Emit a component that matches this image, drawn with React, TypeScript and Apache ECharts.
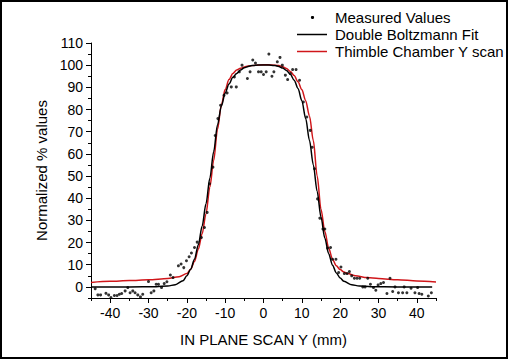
import React, { useEffect, useRef } from "react";
import * as echarts from "echarts";

// Measured values (scatter)
const measuredX = [
  -43.9, -43.2, -42.5, -41.1, -40.4, -39.8, -38.9, -38.2, -37.6, -37, -36.1, -35.4, -34.8, -34.1, -33.5, -32.8,
  -32.1, -31.5, -30, -29.3, -28.6, -28, -27.4, -26.6, -25.9, -25.2, -24.3, -23.6, -22.2, -21.5, -20.8, -20.1,
  -19.4, -18.8, -18, -17.3, -16.2, -15.4, -14.7, -14.1, -13.2, -12.6, -11.9, -11.2, -10.3, -9.5, -8.4, -7.6,
  -7.1, -6.3, -5.6, -4.2, -3.5, -2.8, -2.1, -1.3, -0.6, 0, 0.7, 1.4, 2.2, 2.7, 3.6, 4.3, 4.9, 5.7, 6.3, 7,
  7.6, 8.5, 9.4, 10.4, 11.3, 12.2, 12.7, 13.3, 14.1, 14.7, 15.5, 16, 16.7, 17.5, 18, 18.9, 19.6, 20.2, 21.1,
  21.8, 22.4, 23, 23.7, 24.4, 25.1, 25.9, 26.5, 27.2, 27.9, 28.7, 29.3, 29.9, 30.6, 31.3, 32.2, 33, 33.7, 34.3,
  35.2, 36.3, 36.7, 37.4, 38.5, 39.5, 40.2, 40.6, 41.3, 43, 43.8,
];
const measuredY = [
  -0.8, -3.6, -3.6, -2.9, -3.6, -4.8, -3.9, -3.9, -3.3, -3, -1.8, -0.3, -2.6, -1.8, -2.6, -3.6,
  -4.5, -3.3, 2.4, -2.6, -1.8, 1.2, 1.2, -0.3, 1.5, 2.3, 5.4, 4.2, 9.5, 10.3, 8.7, 11.8,
  13.6, 15.3, 17.8, 20.2, 22.3, 26.8, 33.6, 46.5, 54, 68.3, 75.9, 81.9, 86.4, 87.5, 90.2, 94.7,
  90.2, 97, 100, 94, 97, 102.3, 101, 97, 97, 95.8, 97, 105, 95, 97, 101.5, 103.5, 100, 95.5, 93.5, 96.2,
  98, 98, 93.2, 83.4, 76.6, 70.6, 63, 53.3, 39.7, 31, 26.1, 26.1, 17.5, 17.8, 12.5, 12.5, 6.5, 9, 6,
  6, 6.9, 5, 3.9, 3.9, 3.9, 0, 0, 3.9, 1.2, -0.3, -1.5, 0.9, 1.5, 2, -3, 3.9, -2.1, 0,
  -2.6, -2.6, 0, -2.6, -0.6, -2.6, -0.3, -3, -3.3, -4.1, -2.6,
];

// Double Boltzmann Fit (black)
const fitX = [
  -45, -35, -28, -25, -23, -21, -20, -19, -18, -17, -16, -15, -14, -13, -12, -11, -10, -9, -8, -7, -6, -5, -4,
  -3, -2, -1, 0, 1, 2, 3, 4, 5, 6, 7, 8, 9, 10, 11, 12, 13, 14, 15, 16, 17, 18, 19, 20, 21, 23, 25, 28, 35, 44,
];
const fitY = [
  0, 0, 0.1, 0.4, 1, 2.8, 5, 8, 12.5, 19, 27.5, 37.5, 49, 61, 73, 81.5, 87.5, 91.5, 94.5, 96.3, 97.8, 98.8, 99.4,
  99.8, 100, 100.1, 100.1, 100.1, 100, 99.8, 99.4, 98.7, 97.6, 95.9, 93.2, 89.5, 84, 76, 66, 55, 43, 31.5, 22, 15,
  9.8, 6.3, 4, 2.5, 1, 0.4, 0.1, 0, 0,
];

// Thimble Chamber Y scan (red)
const chamberX = [
  -45, -40, -35, -30, -25, -22, -20, -19, -18, -17, -16, -15, -14, -13, -12, -11, -10, -9, -8, -7, -6, -5, -4,
  -2, 0, 2, 4, 5, 6, 7, 8, 9, 10, 11, 12, 13, 14, 15, 16, 17, 18, 19, 20, 21, 22, 24, 27, 30, 35, 40, 45,
];
const chamberY = [
  2, 2.5, 2.9, 3.2, 3.8, 4.6, 6, 8, 11.5, 17, 24, 33, 45, 57, 71, 82, 89, 93.5, 96.2, 97.8, 98.6, 99.2, 99.6,
  100, 100.2, 100.1, 99.9, 99.3, 98.5, 97.2, 95.3, 92.5, 89, 84, 77, 66, 50, 35, 25, 17.5, 12.5, 9.5, 7.8, 6.7,
  6, 5, 4.2, 3.8, 3.2, 2.7, 2.2,
];

const xMajorTicks = [-40, -30, -20, -10, 0, 10, 20, 30, 40];
const xMinorTicks = [-45, -35, -25, -15, -5, 5, 15, 25, 35, 45];
const yMajorTicks = [0, 10, 20, 30, 40, 50, 60, 70, 80, 90, 100, 110];
const yMinorTicks = [-5, 5, 15, 25, 35, 45, 55, 65, 75, 85, 95, 105];

const legendNames = ["Measured Values", "Double Boltzmann Fit", "Thimble Chamber Y scan"];

const FONT = "'Liberation Sans', Arial, sans-serif";
const RED = "#d0161a";

export default function App() {
  const ref = useRef<HTMLDivElement>(null);

  useEffect(() => {
    if (!ref.current) return;
    const chart = echarts.init(ref.current, undefined, { renderer: "svg" });

    const zip = (xs: number[], ys: number[]) => xs.map((x, i) => [x, ys[i]]);

    const axisCommon = {
      splitLine: { show: false },
    };

    const legendRowsY = [17.5, 34.5, 51.5];

    chart.setOption({
      animation: false,
      backgroundColor: "#fff",
      grid: { left: 91, right: 72, top: 43, bottom: 61, containLabel: false },
      xAxis: [
        {
          ...axisCommon,
          type: "value",
          min: -45,
          max: 45,
          position: "bottom",
          axisLine: { show: true, onZero: false, lineStyle: { color: "#000", width: 1 } },
          axisTick: { show: true, inside: false, length: 5, customValues: xMajorTicks, lineStyle: { color: "#000" } },
          axisLabel: { customValues: xMajorTicks, color: "#000", fontSize: 14, fontFamily: FONT, margin: 8 },
          name: "IN PLANE SCAN Y (mm)",
          nameLocation: "middle",
          nameGap: 34,
          nameTextStyle: { color: "#000", fontSize: 15, fontFamily: FONT },
        },
        {
          ...axisCommon,
          type: "value",
          min: -45,
          max: 45,
          position: "bottom",
          axisLine: { show: false, onZero: false },
          axisTick: { show: true, inside: false, length: 3, customValues: xMinorTicks, lineStyle: { color: "#000" } },
          axisLabel: { show: false },
        },
      ],
      yAxis: [
        {
          ...axisCommon,
          type: "value",
          min: -5,
          max: 110,
          position: "left",
          axisLine: { show: true, onZero: false, lineStyle: { color: "#000", width: 1 } },
          axisTick: { show: true, inside: false, length: 5, customValues: yMajorTicks, lineStyle: { color: "#000" } },
          axisLabel: { customValues: yMajorTicks, color: "#000", fontSize: 14, fontFamily: FONT, margin: 8 },
          name: "Normalized % values",
          nameLocation: "middle",
          nameGap: 36,
          nameTextStyle: { color: "#000", fontSize: 15, fontFamily: FONT },
        },
        {
          ...axisCommon,
          type: "value",
          min: -5,
          max: 110,
          position: "left",
          axisLine: { show: false, onZero: false },
          axisTick: { show: true, inside: false, length: 3, customValues: yMinorTicks, lineStyle: { color: "#000" } },
          axisLabel: { show: false },
        },
      ],
      series: [
        {
          name: legendNames[2],
          type: "line",
          data: zip(chamberX, chamberY),
          showSymbol: false,
          smooth: 0.3,
          smoothMonotone: "x",
          lineStyle: { color: RED, width: 1.5 },
          z: 2,
        },
        {
          name: legendNames[1],
          type: "line",
          data: zip(fitX, fitY),
          showSymbol: false,
          smooth: 0.3,
          smoothMonotone: "x",
          lineStyle: { color: "#000", width: 1.5 },
          z: 3,
        },
        {
          name: legendNames[0],
          type: "scatter",
          data: zip(measuredX, measuredY),
          symbol: "circle",
          symbolSize: 3,
          itemStyle: { color: "#000" },
          z: 4,
        },
      ],
      graphic: [
        {
          type: "rect",
          shape: { x: 1, y: 1, width: 506, height: 357 },
          style: { fill: "none", stroke: "#000", lineWidth: 2 },
          silent: true,
        },
        {
          type: "circle",
          shape: { cx: 312.5, cy: legendRowsY[0], r: 1.6 },
          style: { fill: "#000" },
        },
        {
          type: "line",
          shape: { x1: 297, y1: legendRowsY[1], x2: 327, y2: legendRowsY[1] },
          style: { stroke: "#000", lineWidth: 1.5 },
        },
        {
          type: "line",
          shape: { x1: 297, y1: legendRowsY[2], x2: 327, y2: legendRowsY[2] },
          style: { stroke: RED, lineWidth: 1.5 },
        },
        ...legendNames.map((n, i) => ({
          type: "text",
          x: 335,
          y: legendRowsY[i],
          style: {
            text: n,
            fill: "#000",
            fontSize: 15,
            fontFamily: FONT,
            textVerticalAlign: "middle",
            verticalAlign: "middle",
          },
        })),
      ],
    });

    return () => chart.dispose();
  }, []);

  return (
    <div
      ref={ref}
      style={{ position: "absolute", left: 0, top: 0, width: 508, height: 359 }}
    />
  );
}
